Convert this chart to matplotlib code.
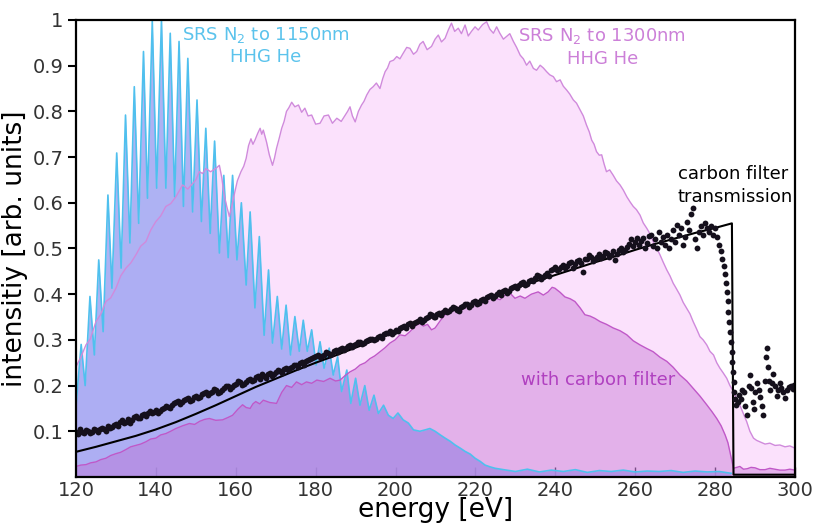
"""HHG spectra (SRS N2 driven) with carbon filter transmission."""
import numpy as np
import matplotlib
matplotlib.use("Agg")
import matplotlib.pyplot as plt

plt.rcParams["font.family"] = ["DejaVu Sans"]

# --- SRS N2 to 1150 nm, HHG in He (harmonic comb: alternating trough / peak)
blue_e = [120, 121.3, 122.3, 123.5, 124.6, 125.7, 126.8, 128.0, 129.0, 130.2,
          131.3, 132.4, 133.5, 134.6, 135.7, 136.9, 137.9, 139.1, 140.2, 141.4,
          142.5, 143.6, 144.7, 145.8, 146.9, 148.0, 149.2, 150.3, 151.4, 152.5,
          153.6, 154.7, 155.9, 157.0, 158.1, 159.2, 160.3, 161.4, 162.6, 163.6,
          164.8, 165.9, 167.1, 168.2, 169.2, 170.4, 171.5, 172.6, 173.7, 174.8,
          175.9, 176.9, 177.9, 179.0, 180.1, 181.1, 182.1, 183.4, 184.4, 185.5,
          186.5, 187.8, 188.8, 190.0, 191.1, 192.3, 193.4, 194.6, 195.7, 197.0,
          198.2, 199.4, 200.6, 201.9, 203.2, 204.5, 206.1, 207.4, 208.6, 209.9,
          211.2, 212.4, 213.7, 214.9, 216.2, 217.4, 218.7, 219.9, 221.2, 222.4,
          223.7, 224.9, 227, 230, 233, 236, 239, 242, 245, 248,
          251, 254, 257, 260, 263, 266, 269, 272, 275, 278, 281, 284]
blue_i = [0.155, 0.29, 0.20, 0.395, 0.267, 0.475, 0.318, 0.617, 0.413, 0.709,
          0.457, 0.792, 0.512, 0.854, 0.555, 0.931, 0.61, 0.998, 0.632, 1.0,
          0.632, 0.971, 0.613, 0.953, 0.592, 0.916, 0.58, 0.825, 0.559, 0.763,
          0.533, 0.735, 0.49, 0.66, 0.48, 0.66, 0.475, 0.60, 0.42, 0.58,
          0.37, 0.526, 0.31, 0.453, 0.293, 0.395, 0.28, 0.376, 0.267, 0.351,
          0.275, 0.343, 0.275, 0.322, 0.245, 0.296, 0.238, 0.282, 0.223, 0.263,
          0.187, 0.234, 0.161, 0.216, 0.157, 0.2, 0.146, 0.179, 0.139, 0.157,
          0.135, 0.128, 0.14, 0.125, 0.118, 0.103, 0.1, 0.103, 0.106, 0.1,
          0.092, 0.085, 0.078, 0.07, 0.063, 0.056, 0.05, 0.041, 0.034, 0.026,
          0.022, 0.019, 0.016, 0.012, 0.017, 0.011, 0.015, 0.012, 0.016, 0.01,
          0.014, 0.012, 0.015, 0.011, 0.013, 0.012, 0.014, 0.01, 0.013, 0.011, 0.012, 0.008]

# --- SRS N2 to 1300 nm, HHG in He  (energy, intensity)
pink_pts = [
    (120, 0.241), (121.2, 0.262), (122.5, 0.289), (123.6, 0.302), (125, 0.34),
    (126.2, 0.356), (127.5, 0.384), (128.7, 0.392), (130, 0.413), (131.2, 0.44),
    (132.5, 0.457), (133.7, 0.468), (135, 0.486), (136.2, 0.505), (137.5, 0.515),
    (138.7, 0.54), (140, 0.559), (141.2, 0.571), (142.5, 0.592), (143.7, 0.598),
    (145, 0.613), (145.9, 0.627), (146.7, 0.639), (148, 0.63), (149.2, 0.642),
    (150, 0.65), (150.9, 0.668), (151.7, 0.664), (152.5, 0.675), (153.7, 0.668),
    (155, 0.675), (155.9, 0.682), (156.5, 0.655), (157.1, 0.617), (157.8, 0.59),
    (158.4, 0.57), (159, 0.592), (159.6, 0.617), (160.4, 0.648), (161.3, 0.668),
    (162, 0.68), (162.6, 0.697), (163.2, 0.725), (163.8, 0.74), (164.3, 0.728),
    (164.8, 0.737), (165.5, 0.752), (166.1, 0.763), (166.5, 0.75), (166.9, 0.759),
    (167.7, 0.733), (168.4, 0.705), (169.2, 0.682), (169.7, 0.698), (170.2, 0.719),
    (170.9, 0.742), (171.5, 0.763), (172.1, 0.778), (172.7, 0.8), (173.3, 0.808),
    (174, 0.82), (174.8, 0.81), (175.7, 0.814), (176.5, 0.798), (177.3, 0.807),
    (178.1, 0.79), (179, 0.792), (180, 0.772), (181.1, 0.774), (182.1, 0.79),
    (183.2, 0.792), (184.2, 0.774), (185.3, 0.785), (186.4, 0.778), (187.4, 0.792),
    (188, 0.8), (188.6, 0.81), (189.2, 0.79), (189.9, 0.777), (190.7, 0.8),
    (191.5, 0.814), (192.1, 0.822), (192.8, 0.836), (193.6, 0.848), (194.4, 0.854),
    (195.2, 0.862), (196.1, 0.85), (196.8, 0.872), (197.4, 0.887), (198, 0.895),
    (198.6, 0.909), (199.5, 0.912), (200.3, 0.92), (201.1, 0.915), (201.9, 0.927),
    (202.8, 0.94), (203.6, 0.938), (204.5, 0.925), (205.3, 0.931), (206.1, 0.947),
    (206.9, 0.953), (207.9, 0.935), (209, 0.942), (209.9, 0.958), (210.7, 0.967),
    (211.5, 0.952), (212.4, 0.96), (213.2, 0.978), (214, 0.993), (214.8, 0.975),
    (215.7, 0.982), (216.5, 0.97), (217.4, 0.989), (218.2, 0.965), (219, 0.975),
    (219.9, 0.985), (220.7, 0.978), (221.8, 0.99), (222.8, 0.996), (223.6, 0.98),
    (224.5, 0.971), (225.3, 0.985), (226.1, 0.971), (227, 0.958), (227.8, 0.964),
    (228.6, 0.97), (229.5, 0.953), (230.3, 0.94), (231.2, 0.923), (232, 0.915),
    (232.8, 0.901), (233.6, 0.91), (234.5, 0.894), (235.3, 0.89), (236.2, 0.901),
    (237, 0.895), (237.8, 0.887), (238.6, 0.88), (239.5, 0.876), (240.3, 0.865),
    (241.2, 0.869), (242, 0.855), (242.8, 0.847), (243.6, 0.838), (244.5, 0.825),
    (245.3, 0.818), (246.2, 0.803), (247, 0.79), (247.8, 0.77), (248.5, 0.755),
    (249.1, 0.737), (249.7, 0.728), (250.3, 0.712), (251, 0.704), (251.6, 0.705),
    (252.2, 0.685), (252.8, 0.668), (253.6, 0.672), (254.5, 0.66), (255.3, 0.648),
    (256.2, 0.639), (257, 0.628), (257.9, 0.613), (258.7, 0.602), (259.5, 0.592),
    (260.3, 0.585), (261.2, 0.573), (262, 0.556), (262.9, 0.544), (263.7, 0.532),
    (264.5, 0.515), (265.3, 0.502), (266.2, 0.486), (267, 0.47), (267.9, 0.453),
    (268.7, 0.44), (269.5, 0.424), (270.3, 0.412), (271.2, 0.398), (272, 0.382),
    (272.9, 0.369), (273.7, 0.357), (274.5, 0.34), (275.3, 0.325), (276.2, 0.307),
    (277, 0.3), (277.9, 0.289), (278.7, 0.275), (279.6, 0.267), (280.4, 0.25),
    (281.2, 0.238), (282, 0.228), (282.9, 0.216), (283.7, 0.2), (284.6, 0.187),
    (285.4, 0.172), (286.2, 0.157), (287, 0.14), (287.9, 0.121), (288.7, 0.1),
    (289.6, 0.085), (290.4, 0.08), (291.2, 0.077), (292.5, 0.072), (293.7, 0.074),
    (295, 0.069), (296.2, 0.07), (297.5, 0.066), (298.7, 0.068), (300, 0.063),
]

# --- same source, with carbon filter  (energy, intensity)
carbon_pts = [
    (120, 0.023), (121.2, 0.026), (122.5, 0.027), (123.7, 0.031), (125, 0.033),
    (126.2, 0.038), (127.5, 0.041), (128.7, 0.047), (130, 0.051), (131.2, 0.054),
    (132.5, 0.06), (133.7, 0.066), (135, 0.069), (136.2, 0.072), (137.5, 0.077),
    (138.7, 0.083), (140, 0.085), (141.2, 0.092), (142.5, 0.095), (143.7, 0.1),
    (145, 0.106), (146.7, 0.112), (148.4, 0.117), (149.7, 0.115), (151, 0.122),
    (152.2, 0.126), (153.4, 0.128), (155, 0.124), (156.7, 0.125), (158, 0.13),
    (159.2, 0.135), (160.5, 0.148), (161.7, 0.158), (162.6, 0.152), (163.6, 0.15),
    (164.3, 0.16), (165, 0.165), (166, 0.16), (166.9, 0.168), (168.5, 0.163),
    (170.2, 0.161), (171.5, 0.185), (172.7, 0.2), (174, 0.196), (175.2, 0.208),
    (176.5, 0.202), (177.7, 0.208), (179, 0.205), (180.3, 0.212), (182, 0.209),
    (183.6, 0.216), (185, 0.21), (186.1, 0.212), (187.4, 0.222), (188.6, 0.23),
    (189.9, 0.236), (191.1, 0.245), (192.4, 0.25), (193.6, 0.259), (194.8, 0.265),
    (196.1, 0.274), (197.4, 0.283), (198.6, 0.293), (199.9, 0.3), (201.1, 0.311),
    (202.4, 0.309), (203.6, 0.318), (204.9, 0.33), (206.1, 0.336), (207, 0.33),
    (208, 0.334), (209, 0.322), (209.9, 0.326), (211.2, 0.342), (212.4, 0.355),
    (213.7, 0.36), (214.9, 0.369), (216.2, 0.372), (217.4, 0.376), (218.7, 0.37),
    (219.9, 0.384), (221.2, 0.378), (222.4, 0.384), (223.7, 0.395), (224.9, 0.391),
    (226.2, 0.388), (227.4, 0.398), (228.7, 0.402), (229.9, 0.391), (231.2, 0.396),
    (232.4, 0.391), (234, 0.4), (235.7, 0.405), (237, 0.398), (238.2, 0.405),
    (239.2, 0.415), (239.9, 0.413), (241.2, 0.404), (242.4, 0.394), (243.7, 0.39),
    (244.9, 0.384), (246.2, 0.37), (247.4, 0.355), (248.7, 0.352), (249.9, 0.347),
    (251.2, 0.34), (252.8, 0.334), (254.5, 0.326), (256.2, 0.32), (257.9, 0.311),
    (259.5, 0.298), (261.2, 0.289), (262.9, 0.281), (264.5, 0.274), (266.2, 0.262),
    (267.9, 0.253), (269.5, 0.24), (271.2, 0.223), (272.9, 0.21), (274.5, 0.194),
    (276.2, 0.177), (277.9, 0.158), (279.2, 0.143), (280.4, 0.128), (281.5, 0.112),
    (282.5, 0.092), (283.2, 0.075), (283.7, 0.055), (284.2, 0.035), (284.6, 0.019),
    (285.4, 0.021), (286.2, 0.023), (287.1, 0.017), (288, 0.018), (289, 0.021),
    (290, 0.02), (291.2, 0.016), (292.5, 0.016), (293.7, 0.019), (295, 0.017),
    (296.2, 0.015), (297.5, 0.015), (298.7, 0.017), (300, 0.015),
]

# --- carbon filter transmission, calculated (line)
calc_e = [120, 125, 130, 135, 140, 145, 150, 155, 160, 165,
          170, 175, 180, 185, 190, 195, 200, 205, 210, 215,
          220, 225, 230, 235, 240, 245, 250, 255, 260, 265,
          270, 275, 280, 284.2, 284.6, 300]
calc_t = [0.055, 0.066, 0.078, 0.09, 0.104, 0.12, 0.138, 0.157, 0.177, 0.197,
          0.215, 0.233, 0.25, 0.266, 0.283, 0.30, 0.318, 0.336, 0.352, 0.367,
          0.383, 0.398, 0.413, 0.428, 0.442, 0.456, 0.47, 0.483, 0.497, 0.51,
          0.522, 0.534, 0.545, 0.555, 0.005, 0.005]

# --- carbon filter transmission, measured (dots)
# points on the whole-eV grid 120..264
meas_t = [0.098, 0.104, 0.096, 0.101, 0.099, 0.103, 0.106, 0.104, 0.111, 0.109,
          0.116, 0.121, 0.118, 0.127, 0.124, 0.134, 0.130, 0.138, 0.141, 0.139,
          0.147, 0.145, 0.151, 0.154, 0.158, 0.163, 0.160, 0.168, 0.172, 0.169,
          0.178, 0.176, 0.183, 0.180, 0.187, 0.190, 0.186, 0.195, 0.198, 0.196,
          0.204, 0.207, 0.203, 0.212, 0.210, 0.218, 0.214, 0.221, 0.226, 0.222,
          0.229, 0.232, 0.236, 0.233, 0.241, 0.244, 0.249, 0.246, 0.256, 0.260,
          0.264, 0.262, 0.268, 0.271, 0.269, 0.277, 0.280, 0.278, 0.286, 0.284,
          0.291, 0.295, 0.293, 0.299, 0.303, 0.301, 0.309, 0.312, 0.316, 0.313,
          0.322, 0.326, 0.330, 0.334, 0.331, 0.340, 0.345, 0.343, 0.350, 0.354,
          0.351, 0.358, 0.362, 0.360, 0.367, 0.370, 0.364, 0.374, 0.379, 0.376,
          0.385, 0.381, 0.390, 0.394, 0.398, 0.395, 0.404, 0.407, 0.403, 0.413,
          0.418, 0.421, 0.426, 0.422, 0.432, 0.436, 0.440, 0.437, 0.446, 0.452,
          0.459, 0.455, 0.464, 0.461, 0.470, 0.466, 0.474, 0.449, 0.478, 0.482,
          0.476, 0.488, 0.484, 0.491, 0.486, 0.475, 0.496, 0.492, 0.503, 0.521,
          0.515, 0.508, 0.523, 0.512, 0.530]
# points on the half-eV grid 120.5..263.5
meas_t_half = [0.093, 0.099, 0.102, 0.097, 0.105, 0.099, 0.108, 0.101, 0.107, 0.114,
               0.112, 0.124, 0.121, 0.119, 0.131, 0.128, 0.136, 0.133, 0.145, 0.143,
               0.141, 0.149, 0.156, 0.151, 0.162, 0.166, 0.164, 0.171, 0.166, 0.175,
               0.172, 0.181, 0.185, 0.184, 0.192, 0.184, 0.191, 0.199, 0.193, 0.201,
               0.209, 0.202, 0.208, 0.215, 0.213, 0.220, 0.225, 0.217, 0.228, 0.226,
               0.235, 0.228, 0.239, 0.238, 0.245, 0.240, 0.252, 0.253, 0.258, 0.263,
               0.268, 0.265, 0.273, 0.266, 0.275, 0.274, 0.283, 0.282, 0.289, 0.288,
               0.296, 0.290, 0.298, 0.302, 0.299, 0.306, 0.305, 0.315, 0.319, 0.318,
               0.320, 0.328, 0.327, 0.337, 0.336, 0.342, 0.340, 0.348, 0.356, 0.349,
               0.357, 0.355, 0.366, 0.363, 0.372, 0.366, 0.371, 0.378, 0.372, 0.382,
               0.379, 0.388, 0.386, 0.397, 0.392, 0.401, 0.399, 0.410, 0.408, 0.416,
               0.414, 0.424, 0.419, 0.429, 0.428, 0.442, 0.433, 0.443, 0.440, 0.455,
               0.452, 0.460, 0.457, 0.468, 0.457, 0.472, 0.469, 0.476, 0.485, 0.473,
               0.482, 0.479, 0.492, 0.481, 0.495, 0.488, 0.500, 0.497, 0.510, 0.505,
               0.524, 0.517, 0.502, 0.527]
meas_e = list(np.arange(120, 265, 1.0)) + list(np.arange(120.5, 264, 1.0))

# measured points near and beyond the carbon K-edge
edge_e = [264.5, 265, 265.5, 266, 266.5, 267, 267.5, 268, 268.5, 269,
          269.5, 270, 270.5, 271, 271.5, 272, 272.5, 273, 273.5, 274,
          274.5, 275, 275.4, 276, 276.5, 277, 277.5, 278, 278.5, 279,
          279.5, 280, 280.5, 281, 281.4, 281.8, 282.1, 282.4, 282.7, 282.9,
          283.1, 283.3, 283.5, 283.7, 283.9, 284.1, 284.3, 284.5, 284.7, 284.8,
          285.0, 285.2, 285.6, 286.0, 286.4, 286.8, 287.2, 287.6, 288.0, 288.4,
          288.7, 289.0, 289.4, 289.7, 290.1, 290.5, 290.9, 291.3, 291.7, 292.1,
          292.5, 292.7, 292.9, 293.2, 293.5, 293.8, 294.2, 294.6, 295.0, 295.4,
          295.8, 296.2, 296.6, 297.0, 297.5, 298.0, 298.4, 298.9, 299.4, 299.8]
edge_t = [0.505, 0.52, 0.50, 0.537, 0.515, 0.525, 0.508, 0.53, 0.50, 0.52,
          0.54, 0.515, 0.551, 0.53, 0.545, 0.508, 0.525, 0.559, 0.54, 0.575,
          0.588, 0.52, 0.50, 0.537, 0.55, 0.53, 0.555, 0.545, 0.537, 0.55,
          0.53, 0.544, 0.525, 0.508, 0.495, 0.478, 0.462, 0.445, 0.425, 0.405,
          0.385, 0.362, 0.34, 0.318, 0.296, 0.274, 0.252, 0.23, 0.208, 0.187,
          0.17, 0.157, 0.165, 0.18, 0.17, 0.19, 0.185, 0.155, 0.135, 0.20,
          0.223, 0.195, 0.165, 0.148, 0.185, 0.205, 0.19, 0.175, 0.155, 0.135,
          0.21, 0.262, 0.282, 0.24, 0.21, 0.19, 0.205, 0.225, 0.20, 0.178,
          0.19, 0.205, 0.195, 0.185, 0.172, 0.19, 0.196, 0.20, 0.192, 0.201]

pink_e, pink_i = zip(*pink_pts)
carbon_e, carbon_i = zip(*carbon_pts)

fig = plt.figure(figsize=(8.16, 5.23), dpi=100)
ax = fig.add_axes([0.0931, 0.088, 0.8812, 0.8738])

ax.fill_between(pink_e, pink_i, color="#FBE1FC", lw=0, zorder=1)
ax.fill_between(blue_e, blue_i, color=(160 / 255, 165 / 255, 242 / 255),
                alpha=0.85, lw=0, zorder=2)
ax.fill_between(carbon_e, carbon_i, color="#C16AD0", alpha=0.4, lw=0, zorder=3)

ax.plot(blue_e, blue_i, color="#4FC0EE", lw=1.2, zorder=4)
ax.plot(pink_e, pink_i, color="#D08ADC", lw=1.0, zorder=4)
ax.plot(carbon_e, carbon_i, color="#C058C8", lw=1.0, zorder=4)

ax.plot(calc_e, calc_t, color="black", lw=1.5, zorder=5)
ax.plot(meas_e + edge_e, meas_t + meas_t_half + edge_t, "o", color="#15101C",
        ms=4.2, mew=0, zorder=6)

ax.text(167.6, 0.944, "SRS N$_2$ to 1150nm\nHHG He", color="#5BC3EC",
        fontsize=13, ha="center", va="center", linespacing=1.25, zorder=7)
ax.text(251.8, 0.941, "SRS N$_2$ to 1300nm\nHHG He", color="#CC80D8",
        fontsize=13, ha="center", va="center", linespacing=1.25, zorder=7)
ax.text(270.6, 0.638, "carbon filter\ntransmission", color="black",
        fontsize=13, ha="left", va="center", linespacing=1.3, zorder=7)
ax.text(250.6, 0.212, "with carbon filter", color="#B040C0",
        fontsize=13, ha="center", va="center", zorder=7)

ax.set_xlim(120, 300)
ax.set_ylim(0, 1)
ax.set_xticks(np.arange(120, 301, 20))
ax.set_yticks([0.1, 0.2, 0.3, 0.4, 0.5, 0.6, 0.7, 0.8, 0.9, 1.0])
ax.set_yticklabels(["0.1", "0.2", "0.3", "0.4", "0.5", "0.6", "0.7", "0.8",
                    "0.9", "1"])

ax.tick_params(axis="y", direction="out", length=6, width=1.5,
               labelsize=14, labelcolor="#333333", pad=3)
ax.tick_params(axis="x", direction="in", length=7, width=1.0, color="#4a3a55",
               labelsize=14, labelcolor="#333333", pad=3)
for sp in ax.spines.values():
    sp.set_linewidth(1.6)
    sp.set_color("black")
    sp.set_zorder(8)

ax.set_xlabel("energy [eV]", fontsize=19, labelpad=-2)
ax.set_ylabel("intensitiy [arb. units]", fontsize=19, labelpad=3)

fig.savefig("out.png", dpi=100)
